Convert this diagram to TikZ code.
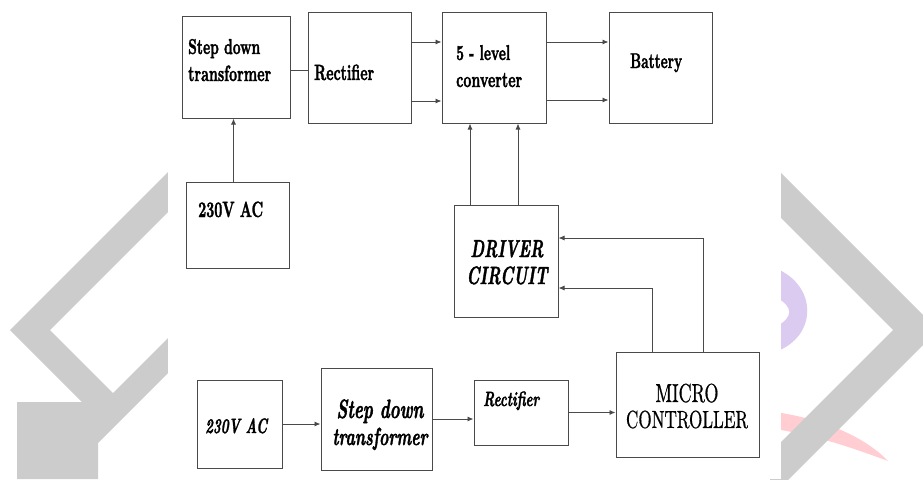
\documentclass[tikz,border=0pt]{standalone}
\usepackage{fontspec}
\setmainfont{lmroman10}[Extension=.otf, UprightFont=*-regular, BoldFont=*-bold, ItalicFont=*-italic, BoldItalicFont=*-bolditalic, UprightFeatures={FakeBold=0.8}, BoldFeatures={FakeBold=2}, BoldItalicFeatures={FakeBold=2}]
\usepackage{graphicx}
\usepackage{tikz}
\usetikzlibrary{arrows.meta}
\definecolor{wmgray}{HTML}{CCCCCC}
\definecolor{wmlilac}{HTML}{DCCBF0}
\definecolor{wmpink}{HTML}{FFCDD2}
\definecolor{boxline}{HTML}{4A4A4A}
\newcommand{\linefit}[2]{\resizebox{#1}{!}{#2}}
\newcommand{\oneline}[2]{\scalebox{1}[\vst]{\linefit{#1}{#2}}}
\newcommand{\twolines}[5]{\scalebox{1}[\vst]{\begin{tabular}[t]{@{}#1@{}}\linefit{#2}{#3}\\\linefit{#4}{#5}\end{tabular}}}

\begin{document}
\begin{tikzpicture}[
    x=1pt, y=-1pt,
    blk/.style={draw=boxline, line width=1pt, inner sep=0pt},
    lbl/.style={inner sep=0pt, font=\bfseries\fontsize{10}{17.1}\selectfont\def\vst{1.58}},
    lblit/.style={inner sep=0pt, font=\bfseries\itshape\fontsize{10}{17.2}\selectfont\def\vst{1.57}},
    lblrm/.style={inner sep=0pt, font=\fontsize{10}{18}\selectfont\def\vst{1.44}},
    con/.style={draw=boxline, line width=0.9pt},
    arr/.style={con, -{Latex[length=6pt,width=5pt]}}
]
\useasboundingbox (0,0) rectangle (923,479);
\begin{scope}
\clip (0,0) rectangle (923,479);
\fill[wmpink] (775,412) .. controls (830,420) and (868,440) .. (888,461) .. controls (858,450) and (820,436) .. (775,429) -- cycle;
\fill[wmlilac] (775,268) .. controls (818,285) and (818,337) .. (775,352) -- (775,327) .. controls (794,318) and (794,306) .. (775,297) -- cycle;
\fill[wmgray] (175,165) -- (10,330) -- (82,402) -- (17,402) -- (17,479) -- (98,479) -- (98,443) -- (175,366) -- (175,331) -- (113,393) -- (50,330) -- (175,205) -- cycle;
\fill[wmgray] (770,162) -- (938,330) -- (770,498) -- (770,453) -- (893,330) -- (770,207) -- cycle;
\fill[white] (168,0) rectangle (781,479);
\end{scope}

\node[blk, minimum width=108pt, minimum height=102pt] (tfa) at (236,67) {};
\node[blk, minimum width=103pt, minimum height=111pt] (rca) at (359.5,67.5) {};
\node[blk, minimum width=104pt, minimum height=111pt] (cnv) at (494,67.5) {};
\node[blk, minimum width=103pt, minimum height=111pt] (bat) at (660.5,67.5) {};
\node[blk, minimum width=103pt, minimum height=86pt] (aca) at (237.5,225) {};
\node[blk, minimum width=104pt, minimum height=112pt] (drv) at (506,261) {};
\node[blk, minimum width=85pt, minimum height=88pt] (acb) at (239.5,424) {};
\node[blk, minimum width=111pt, minimum height=102pt] (tfb) at (376.5,419) {};
\node[blk, minimum width=94pt, minimum height=65pt] (rcb) at (521,412.5) {};
\node[blk, minimum width=143pt, minimum height=105pt] (mcu) at (687.5,404.5) {};

\node[lbl, anchor=base west] (tfa-t) at (188,54) {\twolines{l}{72pt}{Step down}{83pt}{transformer}};
\node[lbl, anchor=base west] (rca-t) at (314,80) {\oneline{60pt}{Rectifier}};
\node[lbl, anchor=base west] (cnv-t) at (456,60) {\twolines{l}{54pt}{5 - level}{66pt}{converter}};
\node[lbl, anchor=base west] (bat-t) at (630,68) {\oneline{52pt}{Battery}};
\node[lbl, anchor=base west] (aca-t) at (198,217) {\oneline{65pt}{230V AC}};
\node[lblit, anchor=base] (drv-t) at (507,257) {\twolines{c}{73pt}{DRIVER}{81pt}{CIRCUIT}};
\node[lblit, anchor=base west] (acb-t) at (205,433) {\oneline{62pt}{230V AC}};
\node[lblit, anchor=base] (tfb-t) at (380,418) {\twolines{c}{87pt}{Step down}{95pt}{transformer}};
\node[lblit, anchor=base west] (rcb-t) at (483,406) {\oneline{56pt}{Rectifier}};
\node[lblrm, anchor=base] (mcu-t) at (687,402) {\twolines{c}{63pt}{MICRO}{122pt}{CONTROLLER}};

\draw[arr] ([xshift=-4pt]aca.north) -- ([xshift=-4pt]aca.north |- tfa.south);
\draw[con] ([yshift=-3pt]tfa.east) -- ([yshift=-3pt]tfa.east -| rca.west);
\foreach \dy in {25.5,-33.5}
    \draw[arr] ([yshift=\dy pt]rca.east) -- ([yshift=\dy pt]rca.east -| cnv.west);
\foreach \dy in {25.5,-32.5}
    \draw[arr] ([yshift=\dy pt]cnv.east) -- ([yshift=\dy pt]cnv.east -| bat.west);
\foreach \dx in {-36,12}
    \draw[arr] ([xshift=\dx pt]drv.north) -- ([xshift=\dx pt]drv.north |- cnv.south);
\draw[arr] ([xshift=15.5pt]mcu.north) |- ([yshift=23pt]drv.east);
\draw[arr] ([xshift=-35.5pt]mcu.north) |- ([yshift=-27pt]drv.east);
\draw[arr] (acb.east) -- (acb.east -| tfb.west);
\draw[arr] (tfb.east) -- (tfb.east -| rcb.west);
\draw[arr] (rcb.east) -- (rcb.east -| mcu.west);
\end{tikzpicture}
\end{document}
